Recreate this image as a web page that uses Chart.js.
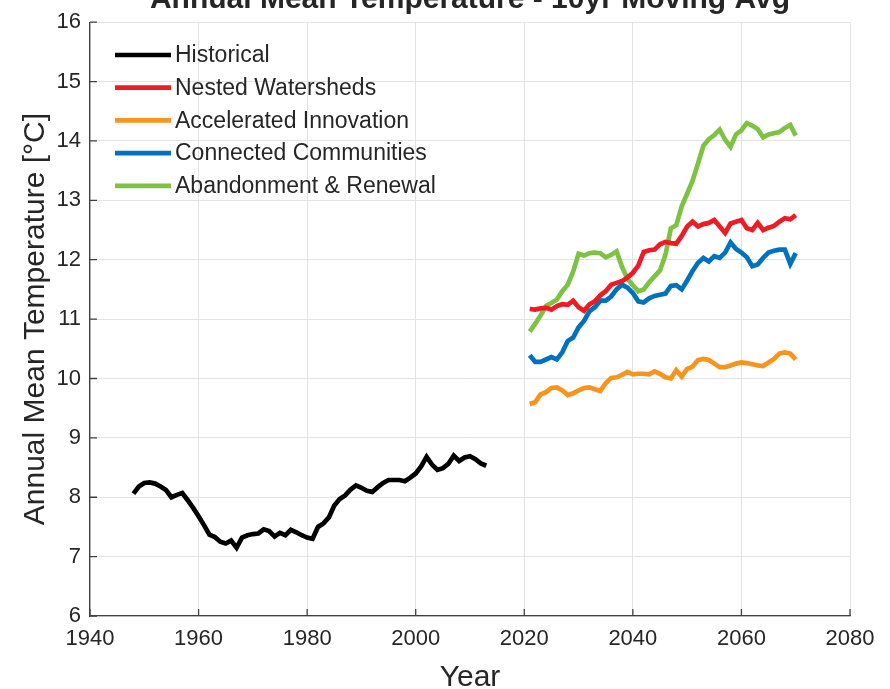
<!DOCTYPE html>
<html>
<head>
<meta charset="utf-8">
<script src="https://cdn.jsdelivr.net/npm/chart.js@4.4.1/dist/chart.umd.min.js"></script>
<style>
  html, body { margin: 0; padding: 0; background: #fff; }
  canvas { display: block; }
</style>
</head>
<body>
<canvas id="tempChart" width="890" height="689"></canvas>
<script>
// observed record, 10yr moving average
const historicalYears = [1948, 1949, 1950, 1951, 1952, 1953, 1954, 1955, 1956, 1957,
  1958, 1959, 1960, 1961, 1962, 1963, 1964, 1965, 1966, 1967, 1968, 1969, 1970, 1971,
  1972, 1973, 1974, 1975, 1976, 1977, 1978, 1979, 1980, 1981, 1982, 1983, 1984, 1985,
  1986, 1987, 1988, 1989, 1990, 1991, 1992, 1993, 1994, 1995, 1996, 1997, 1998, 1999,
  2000, 2001, 2002, 2003, 2004, 2005, 2006, 2007, 2008, 2009, 2010, 2011, 2012, 2013];
const historical = [8.06, 8.18, 8.24, 8.25, 8.23, 8.18, 8.12, 8.00, 8.04, 8.07,
  7.95, 7.82, 7.68, 7.53, 7.37, 7.33, 7.25, 7.22, 7.27, 7.15, 7.32, 7.36, 7.38, 7.39,
  7.46, 7.43, 7.34, 7.40, 7.36, 7.45, 7.41, 7.36, 7.32, 7.30, 7.50, 7.56, 7.66, 7.86,
  7.97, 8.03, 8.13, 8.20, 8.16, 8.11, 8.09, 8.17, 8.24, 8.29, 8.29, 8.29, 8.27, 8.33,
  8.40, 8.52, 8.68, 8.55, 8.46, 8.49, 8.56, 8.70, 8.61, 8.67, 8.69, 8.64, 8.57, 8.53];

// scenario projections
const projectionYears = [2021, 2022, 2023, 2024, 2025, 2026, 2027, 2028, 2029, 2030,
  2031, 2032, 2033, 2034, 2035, 2036, 2037, 2038, 2039, 2040, 2041, 2042, 2043, 2044,
  2045, 2046, 2047, 2048, 2049, 2050, 2051, 2052, 2053, 2054, 2055, 2056, 2057, 2058,
  2059, 2060, 2061, 2062, 2063, 2064, 2065, 2066, 2067, 2068, 2069, 2070];
const nestedWatersheds = [11.17, 11.16, 11.18, 11.19, 11.16, 11.22, 11.25, 11.24, 11.31, 11.20,
  11.14, 11.25, 11.30, 11.40, 11.47, 11.58, 11.61, 11.64, 11.70, 11.78, 11.90, 12.13, 12.16, 12.17,
  12.26, 12.30, 12.28, 12.27, 12.40, 12.56, 12.64, 12.56, 12.60, 12.62, 12.67, 12.56, 12.45, 12.61,
  12.64, 12.67, 12.53, 12.50, 12.62, 12.50, 12.54, 12.57, 12.64, 12.70, 12.68, 12.75];
const acceleratedInnovation = [9.57, 9.60, 9.73, 9.77, 9.84, 9.85, 9.80, 9.72, 9.75, 9.80,
  9.84, 9.85, 9.82, 9.79, 9.92, 10.01, 10.02, 10.06, 10.11, 10.07, 10.08, 10.08, 10.07, 10.12,
  10.08, 10.02, 10.00, 10.14, 10.03, 10.16, 10.20, 10.31, 10.33, 10.31, 10.25, 10.19, 10.19, 10.22,
  10.25, 10.27, 10.26, 10.24, 10.22, 10.21, 10.27, 10.33, 10.42, 10.44, 10.42, 10.32];
const connectedCommunities = [10.39, 10.28, 10.28, 10.32, 10.36, 10.32, 10.44, 10.63, 10.69, 10.86,
  10.97, 11.13, 11.20, 11.31, 11.31, 11.38, 11.50, 11.58, 11.53, 11.44, 11.30, 11.28, 11.35, 11.39,
  11.41, 11.43, 11.56, 11.57, 11.50, 11.65, 11.81, 11.95, 12.03, 11.97, 12.06, 12.03, 12.12, 12.29,
  12.18, 12.12, 12.04, 11.89, 11.92, 12.03, 12.12, 12.15, 12.17, 12.17, 11.93, 12.11];
const abandonmentRenewal = [10.79, 10.92, 11.06, 11.22, 11.27, 11.33, 11.47, 11.58, 11.80, 12.10,
  12.07, 12.11, 12.12, 12.11, 12.04, 12.08, 12.14, 11.88, 11.68, 11.57, 11.47, 11.50, 11.62, 11.72,
  11.82, 12.08, 12.53, 12.58, 12.90, 13.11, 13.33, 13.62, 13.92, 14.03, 14.10, 14.19, 14.02, 13.90,
  14.11, 14.18, 14.30, 14.26, 14.20, 14.06, 14.11, 14.13, 14.15, 14.22, 14.27, 14.09];

const xTicks = [1940, 1960, 1980, 2000, 2020, 2040, 2060, 2080];
const yTicks = [6, 7, 8, 9, 10, 11, 12, 13, 14, 15, 16];

const FONT = "'Liberation Sans', Arial, sans-serif";
const TEXT = '#262626';

function pts(xs, ys) {
  return xs.map((x, i) => ({ x: x, y: ys[i] }));
}

function series(label, xs, ys, color, width) {
  return {
    label: label,
    data: pts(xs, ys),
    borderColor: color,
    backgroundColor: color,
    borderWidth: width,
    pointRadius: 0,
    tension: 0,
    fill: false
  };
}

// title (clipped at top), inside legend, inward ticks
const decorations = {
  id: 'decorations',
  afterDraw(chart) {
    const ctx = chart.ctx;
    const area = chart.chartArea;
    const xs = chart.scales.x, ys = chart.scales.y;
    ctx.save();

    ctx.strokeStyle = '#404040';
    ctx.lineWidth = 1.3;
    ctx.beginPath();
    yTicks.forEach(v => {
      const py = ys.getPixelForValue(v);
      ctx.moveTo(area.left, py);
      ctx.lineTo(area.left + 7, py);
    });
    xTicks.forEach(v => {
      const px = xs.getPixelForValue(v);
      ctx.moveTo(px, area.bottom);
      ctx.lineTo(px, area.bottom - 7);
    });
    ctx.stroke();

    ctx.fillStyle = TEXT;
    ctx.font = "bold 30px " + FONT;
    ctx.textAlign = 'center';
    ctx.textBaseline = 'alphabetic';
    ctx.fillText('Annual Mean Temperature - 10yr Moving Avg', (area.left + area.right) / 2, 8);

    ctx.font = "23px " + FONT;
    ctx.textAlign = 'left';
    ctx.textBaseline = 'middle';
    chart.data.datasets.forEach((ds, i) => {
      const y = 55 + i * 32.7;
      ctx.strokeStyle = ds.borderColor;
      ctx.lineWidth = ds.borderWidth;
      ctx.beginPath();
      ctx.moveTo(115, y);
      ctx.lineTo(171, y);
      ctx.stroke();
      ctx.fillStyle = TEXT;
      ctx.fillText(ds.label, 175, y + 1);
    });
    ctx.restore();
  }
};

new Chart(document.getElementById('tempChart').getContext('2d'), {
  type: 'line',
  data: {
    datasets: [
      series('Historical', historicalYears, historical, '#000000', 4.7),
      series('Nested Watersheds', projectionYears, nestedWatersheds, '#ed1c24', 4.7),
      series('Accelerated Innovation', projectionYears, acceleratedInnovation, '#f7941d', 4.7),
      series('Connected Communities', projectionYears, connectedCommunities, '#0072bd', 4.7),
      series('Abandonment & Renewal', projectionYears, abandonmentRenewal, '#7dc242', 4.7)
    ]
  },
  options: {
    responsive: false,
    animation: false,
    layout: { padding: { top: 17, right: 40, left: 0, bottom: 0 } },
    plugins: {
      legend: { display: false },
      tooltip: { enabled: false }
    },
    scales: {
      x: {
        type: 'linear',
        min: 1940,
        max: 2080,
        afterBuildTicks: s => { s.ticks = xTicks.map(v => ({ value: v })); },
        afterFit: s => { s.height = 73; },
        ticks: {
          callback: v => String(v),
          color: TEXT,
          font: { family: FONT, size: 22 },
          padding: 10,
          maxRotation: 0
        },
        grid: { color: '#e3e3e3', lineWidth: 1, drawTicks: false },
        border: { color: '#404040', width: 1.3 },
        title: {
          display: true,
          text: 'Year',
          color: TEXT,
          font: { family: FONT, size: 30, lineHeight: 0.75 },
          padding: { top: 0, bottom: 0 }
        }
      },
      y: {
        min: 6,
        max: 16,
        afterBuildTicks: s => { s.ticks = yTicks.map(v => ({ value: v })); },
        afterFit: s => { s.width = 90; },
        ticks: {
          color: TEXT,
          font: { family: FONT, size: 22 },
          padding: 9
        },
        grid: { color: '#e3e3e3', lineWidth: 1, drawTicks: false },
        border: { color: '#404040', width: 1.3 },
        title: {
          display: true,
          text: 'Annual Mean Temperature [°C]',
          color: TEXT,
          font: { family: FONT, size: 30, lineHeight: 1.0 },
          padding: { top: 21, bottom: 0 }
        }
      }
    }
  },
  plugins: [decorations]
});
</script>
</body>
</html>
